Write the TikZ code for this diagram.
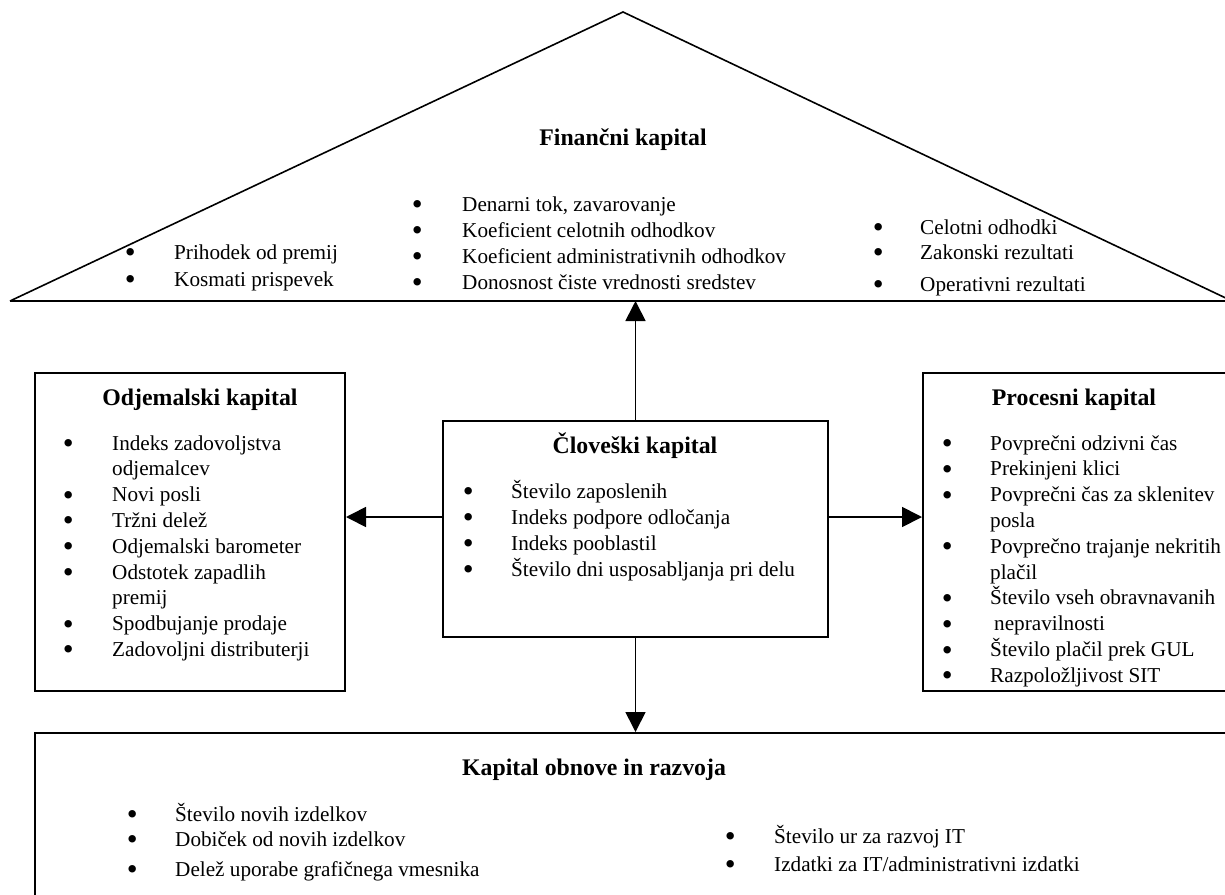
\documentclass[tikz,border=0pt]{standalone}
\usepackage{fontspec}
\setmainfont{Liberation Serif}
\usetikzlibrary{arrows.meta}
% bullet placed #1 to the left of the item text
\newcommand\bulletmark{\smash{\raisebox{-3.4pt}{\fontsize{31}{31}\selectfont •}}}
\newcommand\itm[1][43pt]{\leavevmode\llap{\makebox[0pt]{\bulletmark}\hspace{#1}}}
\tikzset{
  body/.style={font=\fontsize{21.2}{25.8}\selectfont, inner sep=0pt, anchor=base west},
  ttl/.style={font=\fontsize{23.8}{28}\selectfont\bfseries, inner sep=0pt, anchor=base},
  box/.style={draw, line width=2pt, inner sep=0pt},
  conn/.style={line width=1.7pt, -{Triangle[length=20pt,width=20pt]}},
}
\begin{document}
\begin{tikzpicture}[x=1pt,y=-1pt]
\useasboundingbox (0,0) rectangle (1225,894);
\clip (0,0) rectangle (1225,894);

% roof: financial capital
\coordinate (roofL) at (10,301);
\coordinate (roofT) at (623,12);
\coordinate (roofR) at (1232,301);
\draw[line width=1.6pt, line join=miter] (roofL) -- (roofT) -- (roofR);
\draw[line width=2.8pt] (roofL) -- (roofR);

% boxes
\node[box, minimum width=310pt, minimum height=318pt] (odj) at (190,532) {};
\node[box, minimum width=385pt, minimum height=216pt] (hc) at (635.5,529) {};
\node[box, minimum width=317pt, minimum height=318pt] (proc) at (1081.5,532) {};
\node[box, minimum width=1205pt, minimum height=182pt] (bot) at (637.5,824) {};

% connectors
\coordinate (hcW) at ([yshift=12pt]hc.west);
\coordinate (hcE) at ([yshift=12pt]hc.east);
\draw[conn] (hc.north) -- (hc.north |- roofL);
\draw[conn] (hcW) -- (hcW -| odj.east);
\draw[conn] (hcE) -- (hcE -| proc.west);
\draw[conn] (hc.south) -- (hc.south |- bot.north);

% titles
\node[ttl] (finT) at (623,145) {Finančni kapital};
\node[ttl] (odjT) at (200,405) {Odjemalski kapital};
\node[ttl] (hcT) at (635,453) {Človeški kapital};
\node[ttl] (procT) at (1074,405) {Procesni kapital};
\node[ttl] (botT) at (594,775) {Kapital obnove in razvoja};

% financial capital lists
\node[body] (finA) at (174,259) {\begin{tabular}[t]{@{}l@{}}
  \itm[44pt]Prihodek od premij\\[1.2pt]
  \itm[44pt]Kosmati prispevek
\end{tabular}};
\node[body] (finB) at (462,211) {\begin{tabular}[t]{@{}l@{}}
  \itm[45pt]Denarni tok, zavarovanje\\[0.2pt]
  \itm[45pt]Koeficient celotnih odhodkov\\[0.2pt]
  \itm[45pt]Koeficient administrativnih odhodkov\\[0.2pt]
  \itm[45pt]Donosnost čiste vrednosti sredstev
\end{tabular}};
\node[body] (finC) at (920,234) {\begin{tabular}[t]{@{}l@{}}
  \itm[42pt]Celotni odhodki\\[-0.8pt]
  \itm[42pt]Zakonski rezultati\\[6.2pt]
  \itm[42pt]Operativni rezultati
\end{tabular}};

% customer capital list
\node[body] (odjL) at (112,450) {\begin{tabular}[t]{@{}l@{}}
  \itm[44pt]Indeks zadovoljstva\\
  odjemalcev\\
  \itm[44pt]Novi posli\\
  \itm[44pt]Tržni delež\\
  \itm[44pt]Odjemalski barometer\\
  \itm[44pt]Odstotek zapadlih\\
  premij\\
  \itm[44pt]Spodbujanje prodaje\\
  \itm[44pt]Zadovoljni distributerji
\end{tabular}};

% human capital list
\node[body] (hcL) at (511,498) {\begin{tabular}[t]{@{}l@{}}
  \itm[43pt]Število zaposlenih\\[0.2pt]
  \itm[43pt]Indeks podpore odločanja\\[0.2pt]
  \itm[43pt]Indeks pooblastil\\[0.2pt]
  \itm[43pt]Število dni usposabljanja pri delu
\end{tabular}};

% process capital list
\node[body] (procL) at (990,450) {\begin{tabular}[t]{@{}l@{}}
  \itm[43pt]Povprečni odzivni čas\\
  \itm[43pt]Prekinjeni klici\\
  \itm[43pt]Povprečni čas za sklenitev\\
  posla\\
  \itm[43pt]Povprečno trajanje nekritih\\
  plačil\\
  \itm[43pt]Število vseh obravnavanih\\
  \itm[43pt]\hspace{4pt}nepravilnosti\\
  \itm[43pt]Število plačil prek GUL\\
  \itm[43pt]Razpoložljivost SIT
\end{tabular}};

% renewal and development capital lists
\node[body] (botA) at (175,821) {\begin{tabular}[t]{@{}l@{}}
  \itm[43pt]Število novih izdelkov\\[-0.8pt]
  \itm[43pt]Dobiček od novih izdelkov\\[4.2pt]
  \itm[43pt]Delež uporabe grafičnega vmesnika
\end{tabular}};
\node[body] (botB) at (774,843) {\begin{tabular}[t]{@{}l@{}}
  \itm[44pt]Število ur za razvoj IT\\[2.2pt]
  \itm[44pt]Izdatki za IT/administrativni izdatki
\end{tabular}};
\end{tikzpicture}
\end{document}
